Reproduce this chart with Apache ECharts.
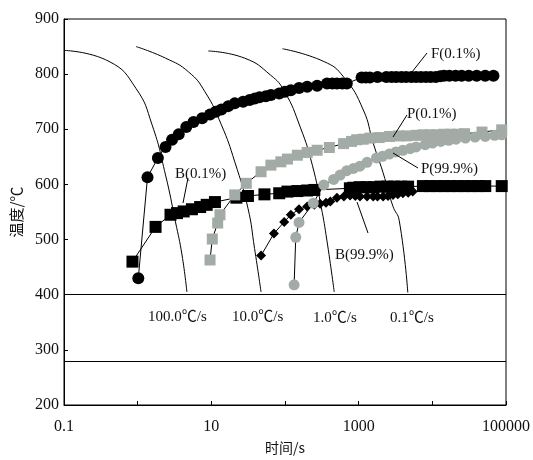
<!DOCTYPE html>
<html>
<head>
<meta charset="utf-8">
<script src="https://cdn.jsdelivr.net/npm/echarts@6/dist/echarts.min.js"></script>
<style>
  html, body { margin: 0; padding: 0; background: #fff; }
  #chart { width: 533px; height: 460px; }
</style>
</head>
<body>
<div id="chart"></div>
<script>
// cooling curves [time s, temp]
const cool100 = [[0.1, 843], [0.41, 823], [0.95, 774], [1.57, 708], [2.39, 617], [3.26, 532], [4.0, 472], [4.66, 405]]
const cool10 = [[0.95, 850], [2.39, 829], [4.91, 804], [8.2, 768], [13.7, 708], [20.8, 641], [31.4, 557], [38.6, 484], [47.3, 405]]
const cool1 = [[9.1, 842], [28.3, 829], [64, 798], [98, 769], [161, 704], [235, 635], [310, 559], [370, 499], [466, 405]]
const cool01 = [[92.5, 846], [336, 823], [624, 795], [1157, 735], [1574, 675], [2147, 621], [2924, 560], [3548, 535], [4645, 404]]

// transformation start lines
const ferrite01 = [[1.02, 430], [1.36, 613], [1.88, 648], [2.39, 668], [2.93, 681], [3.61, 691], [4.57, 704], [5.73, 713],
  [7.5, 720], [9.6, 727], [11.5, 732], [13.7, 736], [17, 742], [20.8, 747], [27, 750], [33.1, 753], [39, 756], [45.1, 758],
  [55, 760], [64.4, 762], [83.5, 765], [100, 768], [120, 771], [155, 775], [200, 777], [273, 779], [372, 783], [440, 783],
  [507, 783], [600, 783], [690, 783], [1097, 794], [1250, 794], [1419, 794], [1800, 795], [2375, 795], [2800, 795],
  [3236, 795], [3800, 795], [4406, 795], [5200, 795], [6010, 795], [7000, 795], [8185, 795], [9500, 795], [11150, 795],
  [12800, 796], [14400, 797], [17000, 797], [20660, 797], [25000, 797], [31170, 797], [40000, 797], [52240, 797], [67600, 797]]
const bainite01 = [[0.85, 460], [1.75, 523], [2.79, 545], [3.42, 548], [4.21, 551], [5.45, 555], [7.05, 559], [8.65, 563],
  [11.2, 568], [21.9, 576], [31.4, 579], [52.6, 582], [83.5, 584], [108, 587], [147, 588], [200, 589], [250, 590],
  [760, 593], [849, 594], [1031, 595], [1279, 595], [1589, 595], [1972, 596], [2449, 596], [3041, 596], [3776, 596],
  [4690, 596], [7447, 597], [9247, 597], [11480, 597], [14260, 597], [17710, 597], [21990, 597], [27310, 597],
  [33910, 597], [42110, 597], [52290, 597], [87500, 597]]
const pearlite01 = [[9.6, 463], [10.3, 501], [12.2, 530], [13.1, 545], [20.8, 581], [29.8, 602], [47.3, 623], [64.4, 635],
  [87.7, 641], [108, 646], [147, 653], [200, 658], [273, 662], [400, 667], [624, 674], [800, 678], [940, 681], [1150, 682],
  [1419, 684], [1900, 685], [2630, 687], [3500, 688], [4500, 688], [6010, 689], [7447, 690], [9247, 690], [11480, 690],
  [14260, 691], [17710, 691], [21990, 691], [27310, 692], [47200, 695], [87500, 699]]
const pearlite999 = [[133, 418], [140, 504], [155, 531], [242, 566], [336, 599], [457, 609], [560, 617], [690, 625],
  [850, 629], [1041, 633], [1300, 640], [1745, 648], [2100, 651], [2608, 655], [3200, 659], [3981, 662], [5000, 665],
  [6010, 668], [8000, 672], [10050, 675], [13000, 678], [16630, 680], [21000, 682], [28180, 684], [38000, 686],
  [52240, 687], [70000, 689], [87500, 690]]
const bainite999 = [[47.3, 471], [70.8, 511], [97.5, 532], [120, 545], [155, 555], [200, 560], [250, 563], [300, 565],
  [360, 567], [412, 569], [507, 576], [630, 578], [764, 580], [900, 579], [1041, 578], [1300, 578], [1574, 578],
  [1800, 578], [2147, 578], [2500, 579], [2924, 581], [3400, 582], [3981, 584], [4700, 585], [5420, 587]]

const hLines = [400, 280]
const yTicks = { min: 200, max: 900, step: 100 }

const serif = '"Liberation Serif", "Noto Sans CJK SC", serif'
const Gray = '#a2aba6'

const chart = echarts.init(document.getElementById('chart'))

function curve(data) {
  return {
    type: 'line',
    data: data,
    smooth: true,
    symbol: 'none',
    lineStyle: { color: '#000', width: 1 },
    z: 1
  }
}

function marks(data, symbol, size, color) {
  return {
    type: 'line',
    data: data,
    symbol: symbol,
    symbolSize: size,
    itemStyle: { color: color },
    lineStyle: { color: '#000', width: 1 },
    z: 3
  }
}

function text(str, x, y) {
  return {
    type: 'text',
    x: x,
    y: y,
    style: { text: str, font: '15px ' + serif, fill: '#111', verticalAlign: 'middle' }
  }
}

function leader(x1, y1, x2, y2) {
  return {
    type: 'line',
    shape: { x1: x1, y1: y1, x2: x2, y2: y2 },
    style: { stroke: '#000', lineWidth: 1 },
    z: 10
  }
}

chart.setOption({
  animation: false,
  grid: {
    left: 64,
    right: 22,
    top: 19,
    bottom: 55,
    show: true,
    borderColor: '#000',
    borderWidth: 1
  },
  xAxis: {
    type: 'log',
    logBase: 10,
    min: 0.1,
    max: 100000,
    name: '时间/s',
    nameLocation: 'middle',
    nameGap: 36,
    nameTextStyle: { fontFamily: '"Noto Sans CJK SC"', fontSize: 14, color: '#111' },
    axisLine: { lineStyle: { color: '#000', width: 1 } },
    axisTick: { inside: true, length: 4, lineStyle: { color: '#000' } },
    axisLabel: {
      fontFamily: serif,
      fontSize: 16,
      color: '#111',
      margin: 14,
      formatter: function (v) {
        const e = Math.round(Math.log10(v))
        return ((e + 1) % 2 === 0) ? String(Number(v.toPrecision(6))) : ''
      }
    },
    splitLine: { show: false }
  },
  yAxis: {
    type: 'value',
    min: yTicks.min,
    max: yTicks.max,
    interval: yTicks.step,
    name: '温度/℃',
    nameLocation: 'middle',
    nameGap: 40,
    nameTextStyle: { fontFamily: '"Noto Sans CJK SC"', fontSize: 15, color: '#111' },
    axisLine: { lineStyle: { color: '#000', width: 1 } },
    axisTick: { inside: true, length: 4, lineStyle: { color: '#000' } },
    axisLabel: { fontFamily: serif, fontSize: 16, color: '#111', margin: 5 },
    splitLine: { show: false }
  },
  series: [
    Object.assign(curve(cool100), {
      markLine: {
        silent: true,
        symbol: 'none',
        label: { show: false },
        lineStyle: { color: '#000', type: 'solid', width: 1 },
        data: hLines.map(v => ({ yAxis: v }))
      }
    }),
    curve(cool10),
    curve(cool1),
    curve(cool01),
    marks(bainite01, 'rect', 12, '#000'),
    marks(bainite999, 'diamond', 10, '#000'),
    marks(ferrite01, 'circle', 12, '#000'),
    marks(pearlite01, 'rect', 11, Gray),
    marks(pearlite999, 'circle', 11, Gray)
  ],
  graphic: [
    text('F(0.1%)', 431, 54),
    text('P(0.1%)', 407, 114),
    text('P(99.9%)', 421, 169),
    text('B(99.9%)', 335, 255),
    text('B(0.1%)', 175, 174),
    text('100.0℃/s', 148, 317),
    text('10.0℃/s', 232, 317),
    text('1.0℃/s', 313, 318),
    text('0.1℃/s', 390, 318),
    leader(412, 72, 427, 53),
    leader(393, 137, 407, 115),
    leader(393, 153, 418, 168),
    leader(357, 202, 368, 233),
    leader(183, 203, 188, 178)
  ]
})
</script>
</body>
</html>
